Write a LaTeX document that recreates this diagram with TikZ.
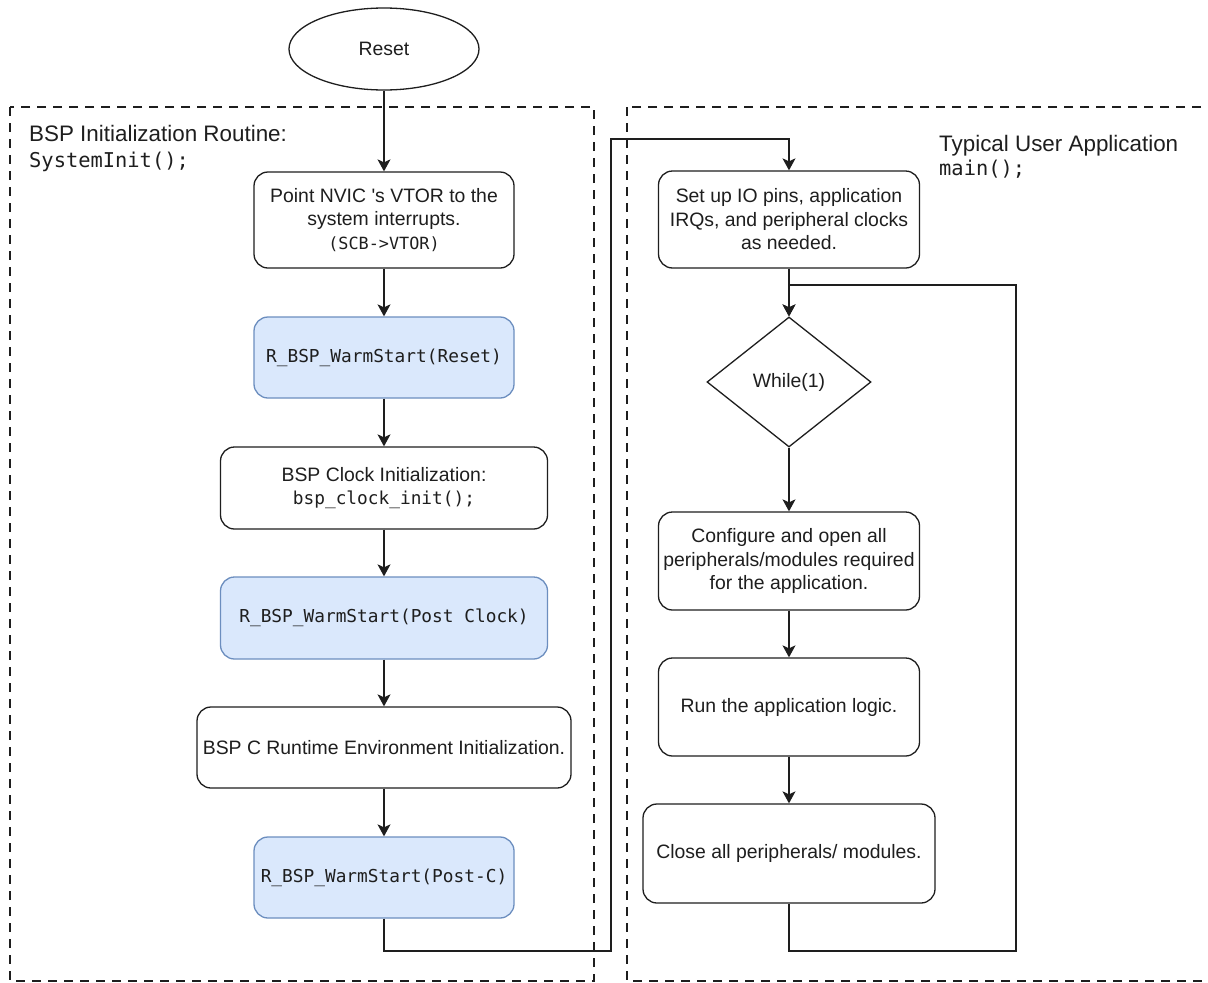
\documentclass[tikz,border=0pt]{standalone}
\usepackage{fontspec}
\setmainfont{Liberation Sans}
\newfontfamily\monofont{DejaVu Sans Mono}
\usetikzlibrary{shapes.geometric,arrows.meta}
\definecolor{bluefill}{HTML}{DAE8FC}
\definecolor{blueline}{HTML}{6C8EBF}
\definecolor{ink}{HTML}{1E1E1E}
\tikzset{
  txt/.style={font=\fontsize{19.4}{23.5}\selectfont, text=ink},
  stepbox/.style={draw=ink, line width=1.3pt, rounded corners=14pt, align=center, inner sep=0pt, txt},
  bluebox/.style={stepbox, fill=bluefill, draw=blueline},
  monotxt/.style={font=\monofont\fontsize{17.8}{22}\selectfont, text=ink},
  conn/.style={draw=ink, line width=1.3pt},
  arr/.style={conn, -{Stealth[length=12pt,width=13pt,inset=3pt]}},
  dashbox/.style={draw=ink, line width=1.3pt, dash pattern=on 9pt off 7pt},
  headtxt/.style={font=\fontsize{22.4}{26}\selectfont, text=ink, inner sep=0pt},
  headmono/.style={font=\monofont\fontsize{20.4}{24}\selectfont, text=ink, inner sep=0pt}
}
\begin{document}
\begin{tikzpicture}[x=1pt,y=-1pt]
\useasboundingbox (0,0) rectangle (1208,983);
\clip (0,0) rectangle (1208,983);
\fill[white] (0,0) rectangle (1208,983);

% group frames
\draw[dashbox] (10,107) rectangle (594,981);
\draw[dashbox] (627,107) rectangle (1240,981);

% group labels
\node[headtxt, anchor=base west] (lh1) at (29,141) {BSP Initialization Routine:};
\node[headmono, anchor=base west] (lh2) at (29,167) {SystemInit();};
\node[headtxt, anchor=base west] (rh1) at (939,151) {Typical User Application};
\node[headmono, anchor=base west] (rh2) at (939,175) {main();};

% left column
\node[draw=ink, line width=1.3pt, ellipse, minimum width=190pt, minimum height=82pt, inner sep=0pt, txt] (reset) at (384,49) {Reset};
\node[stepbox, minimum width=260pt, minimum height=96pt] (b1) at (384,220)
  {Point NVIC \textquotesingle s VTOR to the\\system interrupts.\\{\monofont\fontsize{16.8}{23.5}\selectfont (SCB->VTOR)}};
\node[bluebox, minimum width=260pt, minimum height=81pt, monotxt] (b2) at (384,357.5) {R\_BSP\_WarmStart(Reset)};
\node[stepbox, minimum width=327pt, minimum height=82pt] (b3) at (384,488)
  {BSP Clock Initialization:\\{\monofont\fontsize{17.8}{23.5}\selectfont bsp\_clock\_init();}};
\node[bluebox, minimum width=327pt, minimum height=82pt, monotxt] (b4) at (384,618) {R\_BSP\_WarmStart(Post Clock)};
\node[stepbox, minimum width=374pt, minimum height=81pt] (b5) at (384,747.5) {BSP C Runtime Environment Initialization.};
\node[bluebox, minimum width=260pt, minimum height=81pt, monotxt] (b6) at (384,877.5) {R\_BSP\_WarmStart(Post-C)};

% right column
\node[stepbox, minimum width=261pt, minimum height=97pt] (b7) at (789,219.5)
  {Set up IO pins, application\\IRQs, and peripheral clocks\\as needed.};
\node[draw=ink, line width=1.3pt, diamond, minimum width=164pt, minimum height=130pt, inner sep=0pt, txt] (d) at (789,382) {While(1)};
\node[stepbox, minimum width=261pt, minimum height=98pt] (b8) at (789,561)
  {Configure and open all\\peripherals/modules required\\for the application.};
\node[stepbox, minimum width=261pt, minimum height=98pt] (b9) at (789,707) {Run the application logic.};
\node[stepbox, minimum width=292pt, minimum height=99pt] (b10) at (789,853.5) {Close all peripherals/ modules.};

% connectors
\draw[arr] (reset) -- (b1);
\draw[arr] (b1) -- (b2);
\draw[arr] (b2) -- (b3);
\draw[arr] (b3) -- (b4);
\draw[arr] (b4) -- (b5);
\draw[arr] (b5) -- (b6);

\coordinate (j1) at (611,951);
\coordinate (j2) at (611,139);
\draw[arr] (b6.south) |- (j1) -- (j2) -| (b7.north);

\draw[arr] (b7.south) -- (d.north);
\draw[arr] (d.south) -- (b8.north);
\draw[arr] (b8) -- (b9);
\draw[arr] (b9) -- (b10);

\coordinate (k1) at (1016,951);
\coordinate (k2) at (1016,285);
\draw[arr] (b10.south) |- (k1) -- (k2) -| (d.north);
\end{tikzpicture}
\end{document}
